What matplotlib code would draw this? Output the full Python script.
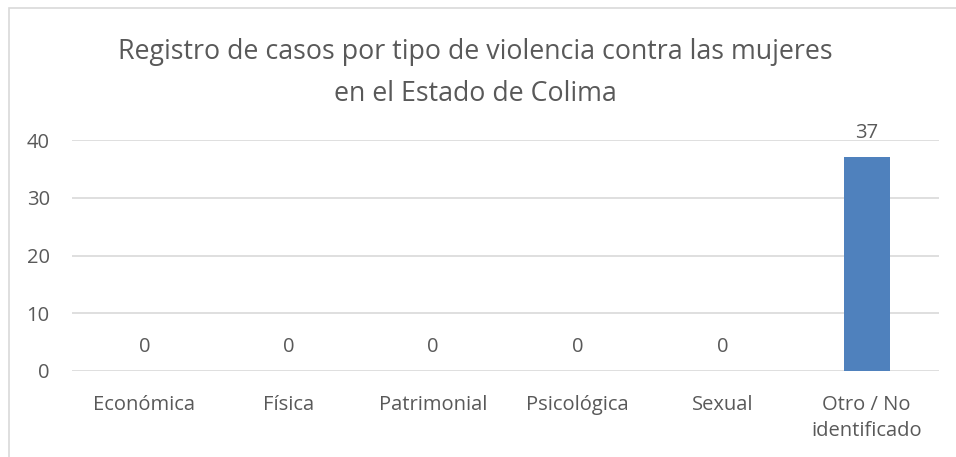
# -*- coding: utf-8 -*-
import numpy as np
import matplotlib
matplotlib.use("Agg")
import matplotlib.pyplot as plt
from matplotlib.patches import Rectangle

# datos del gráfico
categorias = ["Económica", "Física", "Patrimonial", "Psicológica", "Sexual",
              "Otro / No\nidentificado"]
casos = [0, 0, 0, 0, 0, 37]
ticks_y = [0, 10, 20, 30, 40]
titulo = ("Registro de casos por tipo de violencia contra las mujeres\n"
          "en el Estado de Colima")

texto_gris = "#595959"
gris_linea = "#d9d9d9"
azul = "#4f81bd"

plt.rcParams["font.family"] = ["Open Sans", "DejaVu Sans"]

fig = plt.figure(figsize=(9.56, 4.57), dpi=100)

# marco del área del gráfico (el borde derecho e inferior quedan fuera)
fig.patches.append(Rectangle((9 / 956, -0.1), 1.2, (457 - 8) / 457 + 0.1,
                             transform=fig.transFigure, fill=False,
                             edgecolor=gris_linea, linewidth=1.2))

ax = fig.add_axes([72 / 956, 86 / 457, (939 - 72) / 956, (371 - 140) / 457])

x = np.arange(len(categorias))
barras = ax.bar(x, casos, width=0.32, color=azul, zorder=3)

for xi, v in zip(x, casos):
    ax.annotate(str(v), (xi, v), xytext=(0, 10), textcoords="offset points",
                ha="center", va="bottom", fontsize=14.5, color=texto_gris,
                annotation_clip=False)

ax.set_xlim(-0.5, len(categorias) - 0.5)
ax.set_ylim(0, 40)
ax.set_yticks(ticks_y)
ax.set_xticks(x)
ax.set_xticklabels(categorias, fontsize=14.5, color=texto_gris, linespacing=1.4)
ax.tick_params(axis="y", labelsize=14.5, labelcolor=texto_gris, length=0, pad=16)
ax.tick_params(axis="x", length=0, pad=17)
ax.grid(axis="y", color=gris_linea, linewidth=1.2, zorder=0)
for s in ax.spines.values():
    s.set_visible(False)

fig.text(475 / 956, 1 - 73 / 457, titulo, ha="center", va="center",
         fontsize=19.3, color=texto_gris, linespacing=1.7)

fig.savefig("out.png", dpi=100)
